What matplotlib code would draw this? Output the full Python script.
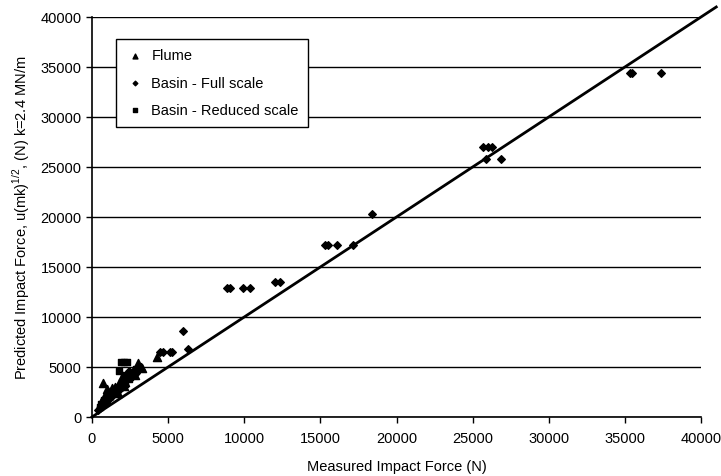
import matplotlib
matplotlib.use("Agg")
import matplotlib.pyplot as plt
import numpy as np

plt.rcParams['font.family'] = ['Liberation Sans', 'DejaVu Sans']
plt.rcParams['mathtext.fontset'] = 'custom'
plt.rcParams['mathtext.rm'] = 'Liberation Sans'

# Flume (triangles)
flume_x = [700, 3000, 3300, 4300, 1000, 1200, 1500, 1800, 2000, 2300, 2500, 2700,
           600, 800, 900, 1100, 1400, 1600, 2200, 2800, 1900, 1300, 3200, 1700, 2100]
flume_y = [3400, 5400, 4900, 6000, 2800, 2500, 3000, 3200, 3600, 4100, 4300, 4600,
           1500, 2000, 1800, 2200, 2600, 2800, 3500, 4200, 3800, 2900, 5000, 2400, 3100]

# Basin - Full scale (diamonds)
full_x = [35340, 35470, 37370,
          25680, 26000, 26270, 25880, 26860,
          18390,
          15300, 15500, 16090, 17140,
          12020, 12350,
          8870, 9060, 9920, 10380,
          5980, 6300,
          4470, 4660, 5120, 5250,
          400, 500, 700, 900, 1100, 1300, 1600, 2000, 2300, 2600, 2400, 1800, 2900]
full_y = [34400, 34400, 34400,
          27000, 27000, 27000, 25800, 25800,
          20300,
          17200, 17200, 17200, 17200,
          13500, 13500,
          12900, 12900, 12900, 12900,
          8600, 6800,
          6500, 6500, 6500, 6500,
          700, 900, 1200, 1500, 1800, 2100, 2400, 3000, 3800, 4200, 4600, 2700, 4400]

# Basin - Reduced scale (squares)
red_x = [1900, 2100, 2300, 1800, 2100, 2400, 2600, 2900, 1500, 1700, 2000, 1200,
         1000, 800, 600, 500, 2200, 2500, 2800]
red_y = [5500, 5500, 5500, 4600, 4200, 3800, 4400, 4800, 2800, 3000, 3500, 2300,
         2000, 1700, 1300, 1000, 3300, 4000, 4500]

line_x = [0, 41000]
line_y = [0, 41000]

xticks = [0, 5000, 10000, 15000, 20000, 25000, 30000, 35000, 40000]
yticks = [0, 5000, 10000, 15000, 20000, 25000, 30000, 35000, 40000]

fig = plt.figure(figsize=(7.21, 4.77), dpi=100)
ax = fig.add_axes([0.1276, 0.1237, 0.8447, 0.8386])

ax.set_xlim(0, 40000)
ax.set_ylim(0, 40000)
ax.set_yticks(yticks)
ax.set_xticks(xticks)
ax.yaxis.grid(True, color='black', linewidth=1.0)
ax.set_axisbelow(True)
for s in ['top', 'right']:
    ax.spines[s].set_visible(False)
for s in ['left', 'bottom']:
    ax.spines[s].set_linewidth(1.2)
ax.tick_params(axis='both', direction='out', length=4, width=1, labelsize=10.5, colors='black')
ax.tick_params(axis='x', pad=6)

ax.plot(line_x, line_y, color='black', linewidth=2.0, clip_on=False, zorder=3)

ax.scatter(flume_x, flume_y, marker='^', s=34, color='black', label='Flume', zorder=4)
ax.scatter(full_x, full_y, marker='D', s=15, color='black', label='Basin - Full scale', zorder=4)
ax.scatter(red_x, red_y, marker='s', s=22, color='black', label='Basin - Reduced scale', zorder=4)

leg = ax.legend(loc='upper left', bbox_to_anchor=(0.04, 0.945), frameon=True, fancybox=False,
                edgecolor='black', fontsize=10.5, markerscale=0.6, handletextpad=0.45,
                borderpad=0.65, labelspacing=0.92, handlelength=1.3, borderaxespad=0)
leg.get_frame().set_linewidth(1.0)
leg.get_frame().set_alpha(1)

ax.set_xlabel('Measured Impact Force (N)', fontsize=10.5, labelpad=10)
ax.set_ylabel('Predicted Impact Force, u(mk)$^{1/2}$, (N) k=2.4 MN/m', fontsize=10.5, labelpad=6)

fig.savefig('out.png', dpi=100)
